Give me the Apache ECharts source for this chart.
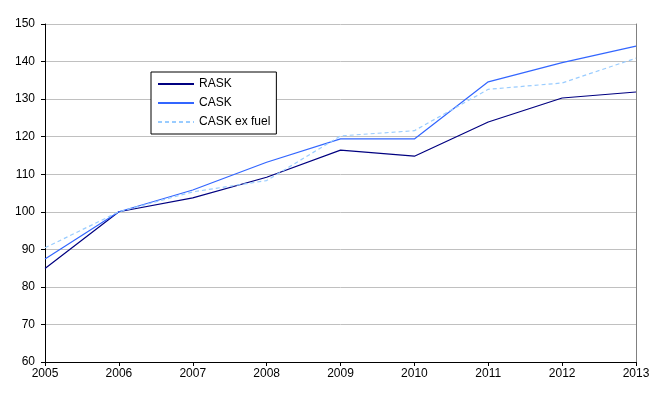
<!DOCTYPE html>
<html>
<head>
<meta charset="utf-8">
<script src="https://cdn.jsdelivr.net/npm/echarts@6/dist/echarts.min.js"></script>
<style>
  html, body { margin: 0; padding: 0; background: #fff; }
  #chart { width: 656px; height: 398px; }
</style>
</head>
<body>
<div id="chart"></div>
<script>
const years = ['2005', '2006', '2007', '2008', '2009', '2010', '2011', '2012', '2013'];
const rask = [84.9, 100, 103.7, 109.2, 116.4, 114.8, 123.9, 130.3, 131.9];
const cask = [87.4, 100, 105.8, 113.2, 119.4, 119.4, 134.6, 139.7, 144.1];
const caskExFuel = [90.4, 100, 105.3, 108.3, 120.2, 121.6, 132.6, 134.3, 140.9];

const chart = echarts.init(document.getElementById('chart'));
const font = 'Liberation Sans, Arial, sans-serif';

const option = {
  animation: false,
  backgroundColor: '#fff',
  textStyle: { fontFamily: font },
  grid: { left: 45, right: 20, top: 24, bottom: 36, containLabel: false },
  legend: {
    orient: 'vertical',
    left: 151,
    top: 72,
    padding: [6, 6, 6, 6],
    itemWidth: 36,
    itemHeight: 14,
    itemGap: 7,
    itemStyle: { opacity: 0 },
    borderColor: '#000',
    borderWidth: 1,
    backgroundColor: '#fff',
    textStyle: { color: '#000', fontSize: 12, fontFamily: font },
    data: ['RASK', 'CASK', 'CASK ex fuel']
  },
  xAxis: {
    type: 'category',
    data: years,
    boundaryGap: false,
    axisLine: { lineStyle: { color: '#000' } },
    axisTick: { show: true, length: 4, inside: false, alignWithLabel: true, lineStyle: { color: '#000' } },
    axisLabel: { color: '#000', fontSize: 12, margin: 6, fontFamily: font },
    splitLine: { show: false }
  },
  yAxis: [{
    type: 'value',
    min: 60,
    max: 150,
    interval: 10,
    axisLine: { show: true, lineStyle: { color: '#000' } },
    axisTick: { show: true, length: 4, lineStyle: { color: '#000' } },
    axisLabel: { color: '#000', fontSize: 12, margin: 10, fontFamily: font },
    splitLine: { show: true, lineStyle: { color: '#c0c0c0', width: 1 } }
  }, {
    type: 'value',
    position: 'right',
    min: 60,
    max: 150,
    interval: 10,
    axisLine: { show: true, lineStyle: { color: '#808080' } },
    axisTick: { show: false },
    axisLabel: { show: false },
    splitLine: { show: false }
  }],
  series: [
    {
      name: 'RASK',
      type: 'line',
      data: rask,
      symbol: 'none',
      lineStyle: { color: '#000080', width: 1.2 },
      itemStyle: { color: '#000080' }
    },
    {
      name: 'CASK',
      type: 'line',
      data: cask,
      symbol: 'none',
      lineStyle: { color: '#3366ff', width: 1.2 },
      itemStyle: { color: '#3366ff' }
    },
    {
      name: 'CASK ex fuel',
      type: 'line',
      data: caskExFuel,
      symbol: 'none',
      lineStyle: { color: '#99ccff', width: 1.2, type: [4, 3] },
      itemStyle: { color: '#99ccff' }
    }
  ]
};

chart.setOption(option);
</script>
</body>
</html>
